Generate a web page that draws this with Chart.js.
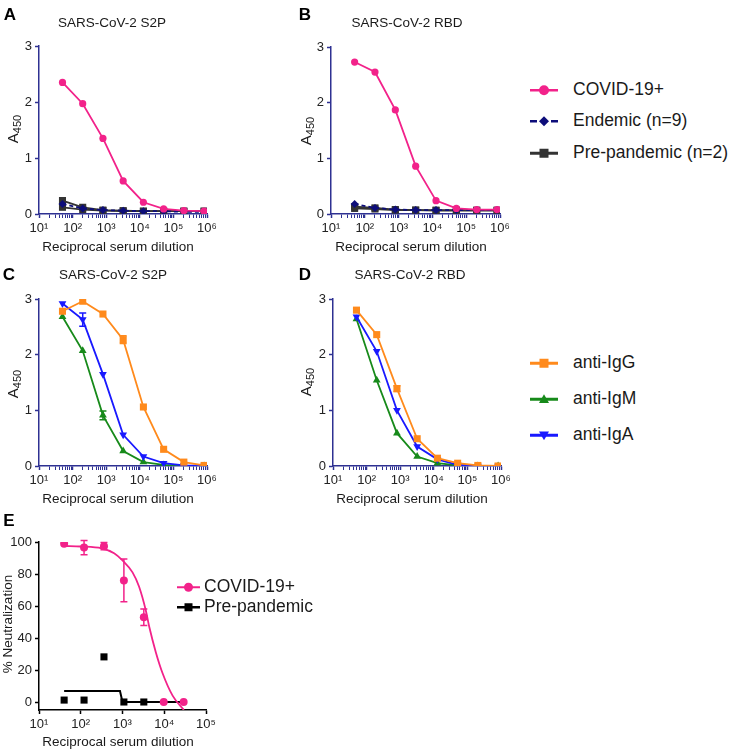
<!DOCTYPE html>
<html>
<head>
<meta charset="utf-8">
<script src="https://cdn.jsdelivr.net/npm/chart.js@4.4.1/dist/chart.umd.min.js"></script>
<style>
  html, body { margin: 0; padding: 0; background: #fff; }
  #fig { position: relative; width: 736px; height: 752px; overflow: hidden;
         font-family: "Liberation Sans", Arial, sans-serif; color: #1a1a1a; }
  #fig canvas { position: absolute; }
  .t { position: absolute; white-space: nowrap; line-height: 1; transform: translate(-50%, -50%); }
  .letter { font-weight: bold; font-size: 17px; color: #000; }
  .title { font-size: 13.5px; }
  .xtitle { font-size: 13.5px; }
  .ytitle { font-size: 15px; transform: translate(-50%, -50%) rotate(-90deg); }
  .ytitle sub { font-size: 11px; vertical-align: -3px; }
  .legrow { position: absolute; display: flex; align-items: center; white-space: nowrap;
            font-size: 17.5px; line-height: 1; transform: translateY(-50%); }
  .legrow svg { display: block; }
</style>
</head>
<body>
<div id="fig">
  <canvas id="chartA"></canvas>
  <canvas id="chartB"></canvas>
  <canvas id="chartC"></canvas>
  <canvas id="chartD"></canvas>
  <canvas id="chartE"></canvas>

  <div class="t letter" style="left:10px;top:14px">A</div>
  <div class="t letter" style="left:305px;top:14px">B</div>
  <div class="t letter" style="left:9px;top:274px">C</div>
  <div class="t letter" style="left:305px;top:274px">D</div>
  <div class="t letter" style="left:9px;top:520px">E</div>

  <div class="t title" style="left:112px;top:23px">SARS-CoV-2 S2P</div>
  <div class="t title" style="left:407px;top:23px">SARS-CoV-2 RBD</div>
  <div class="t title" style="left:113px;top:275px">SARS-CoV-2 S2P</div>
  <div class="t title" style="left:410px;top:275px">SARS-CoV-2 RBD</div>

  <div class="t ytitle" style="left:14px;top:129px">A<sub>450</sub></div>
  <div class="t ytitle" style="left:307px;top:131px">A<sub>450</sub></div>
  <div class="t ytitle" style="left:14px;top:384px">A<sub>450</sub></div>
  <div class="t ytitle" style="left:307px;top:382px">A<sub>450</sub></div>
  <div class="t ytitle" style="left:8px;top:624px;font-size:13.5px">% Neutralization</div>

  <div class="t xtitle" style="left:118px;top:247px">Reciprocal serum dilution</div>
  <div class="t xtitle" style="left:411px;top:247px">Reciprocal serum dilution</div>
  <div class="t xtitle" style="left:118px;top:499px">Reciprocal serum dilution</div>
  <div class="t xtitle" style="left:412px;top:499px">Reciprocal serum dilution</div>
  <div class="t xtitle" style="left:118px;top:742px">Reciprocal serum dilution</div>

  <div id="legendAB"></div>
  <div id="legendCD"></div>
  <div id="legendE"></div>
</div>

<script>
// ---- data -------------------------------------------------------------
const DILUTIONS_ELISA = [50, 200, 800, 3200, 12800, 51200, 204800, 819200];
const DILUTIONS_NEUT = [40, 120, 360, 1080, 3240, 9720, 29160];

const LABELS_AB = ['COVID-19+', 'Endemic (n=9)', 'Pre-pandemic (n=2)'];
const LABELS_CD = ['anti-IgG', 'anti-IgM', 'anti-IgA'];
const LABELS_E = ['COVID-19+', 'Pre-pandemic'];

// A: S2P, COVID vs controls
const A_COVID = [2.35, 1.97, 1.35, 0.59, 0.21, 0.09, 0.06, 0.05];
const A_ENDEMIC = [0.18, 0.10, 0.07, 0.06, 0.05, 0.05, 0.04, 0.04];
const A_PRE_1 = [0.24, 0.12, 0.07, 0.06, 0.05, 0.05, 0.05, 0.05];
const A_PRE_2 = [0.12, 0.08, 0.06, 0.05, 0.05, 0.05, 0.05, 0.05];

// B: RBD, COVID vs controls
const B_COVID = [2.73, 2.55, 1.87, 0.86, 0.24, 0.10, 0.08, 0.08];
const B_ENDEMIC = [0.18, 0.11, 0.08, 0.07, 0.07, 0.07, 0.07, 0.07];
const B_PRE_1 = [0.13, 0.11, 0.08, 0.07, 0.07, 0.07, 0.07, 0.07];
const B_PRE_2 = [0.10, 0.09, 0.07, 0.07, 0.06, 0.06, 0.06, 0.06];

// C: S2P isotypes (mean, sd)
const C_IGG = [2.78, 2.96, 2.73, 2.27, 1.06, 0.30, 0.07, 0.01];
const C_IGM = [2.68, 2.07, 0.91, 0.27, 0.07, 0.02, 0.00, 0.00];
const C_IGA = [2.92, 2.63, 1.65, 0.56, 0.17, 0.05, 0.01, 0.00];
const C_IGG_SD = [0, 0, 0, 0.07, 0, 0, 0, 0];
const C_IGM_SD = [0, 0, 0.08, 0, 0, 0, 0, 0];
const C_IGA_SD = [0, 0.12, 0, 0, 0, 0, 0, 0];

// D: RBD isotypes (mean, sd)
const D_IGG = [2.80, 2.36, 1.39, 0.49, 0.14, 0.05, 0.01, 0.00];
const D_IGM = [2.64, 1.54, 0.59, 0.17, 0.05, 0.01, 0.00, 0.00];
const D_IGA = [2.68, 2.06, 1.00, 0.35, 0.12, 0.02, 0.00, 0.00];
const D_IGG_SD = [0.03, 0, 0.05, 0, 0, 0, 0, 0];

// E: neutralization
const E_COVID = [98.9, 96.5, 97.4, 76.0, 53.0, 0, 0];
const E_COVID_SD = [0, 4.4, 2.3, 13.4, 5.2, 0, 0];
const E_PRE = [1.2, 1.2, 28.2, 0, 0, null, null];
// fitted curves
const E_FIT_COVID_X = [40, 100, 316, 630, 1000, 1740, 2500, 3630, 4370, 6300, 9120, 15850, 29500];
const E_FIT_COVID_Y = [97.5, 97.2, 96.0, 93.0, 88.5, 81.0, 72.0, 57.0, 47.0, 31.0, 18.0, 4.0, -5.0];
const E_FIT_PRE_X = [40, 870, 1000, 29160];
const E_FIT_PRE_Y = [6.9, 6.9, 0, 0];

// ticks
const X_EXP_ELISA = [1, 2, 3, 4, 5, 6];
const X_EXP_NEUT = [1, 2, 3, 4, 5];
const Y_TICKS_ELISA = [0, 1, 2, 3];
const Y_TICKS_NEUT = [0, 20, 40, 60, 80, 100];

// ---- style -------------------------------------------------------------
const PINK = '#f2228a';
const NAVY = '#0d0d7a';
const DARK = '#333333';
const ORANGE = '#ff8a1c';
const GREEN = '#178a1a';
const BLUE = '#1919ff';
const AXIS_NAVY = '#2e3192';

const AXIS_W = 39, AXIS_H = 26, PAD_T = 40, PAD_R = 20;

Chart.defaults.font.family = '"Liberation Sans", Arial, sans-serif';
Chart.defaults.font.size = 13;
Chart.defaults.color = '#222';

const SUP = ['\u2070', '\u00B9', '\u00B2', '\u00B3', '\u2074', '\u2075', '\u2076'];

function isPow10(v) {
    const e = Math.round(Math.log10(v));
    return Math.abs(v - Math.pow(10, e)) < 1e-6 * v;
}

function decadeTicks(exps, minor) {
    const out = [];
    exps.forEach((e, i) => {
        const base = Math.pow(10, e);
        out.push({ value: base });
        if (minor && i < exps.length - 1) {
            for (let k = 2; k <= 9; k++) out.push({ value: k * base });
        }
    });
    return out;
}

// 誤差線：以資料集的 sd 陣列畫上下端
const errorBars = {
    id: 'errorBars',
    afterDatasetsDraw(chart) {
        const { ctx } = chart;
        const xs = chart.scales.x, ys = chart.scales.y;
        chart.data.datasets.forEach(ds => {
            if (!ds.sd) return;
            ctx.save();
            ctx.strokeStyle = ds.borderColor;
            ctx.lineWidth = 1.5;
            ds.data.forEach((p, j) => {
                const e = ds.sd[j];
                if (!e || p.y == null) return;
                const x = xs.getPixelForValue(p.x);
                const y1 = ys.getPixelForValue(p.y - e);
                const y2 = ys.getPixelForValue(p.y + e);
                ctx.beginPath();
                ctx.moveTo(x, y1); ctx.lineTo(x, y2);
                ctx.moveTo(x - 3.5, y1); ctx.lineTo(x + 3.5, y1);
                ctx.moveTo(x - 3.5, y2); ctx.lineTo(x + 3.5, y2);
                ctx.stroke();
            });
            ctx.restore();
        });
    }
};

function series(xs, ys, o) {
    return {
        label: o.label,
        data: xs.map((x, i) => ({ x: x, y: ys[i] })),
        borderColor: o.color,
        backgroundColor: o.color,
        pointBackgroundColor: o.color,
        pointBorderColor: o.color,
        pointBorderWidth: 0,
        borderWidth: o.lineWidth || 1.8,
        pointStyle: o.marker || 'circle',
        pointRadius: o.radius === undefined ? 3.6 : o.radius,
        pointRotation: o.rotation || 0,
        borderDash: o.dash || [],
        showLine: o.showLine === undefined ? true : o.showLine,
        tension: 0,
        cubicInterpolationMode: o.smooth ? 'monotone' : 'default',
        sd: o.sd || null,
        order: o.order || 0
    };
}

function panelChart(id, box, datasets, cfg) {
    const canvas = document.getElementById(id);
    canvas.width = box.r - box.l + AXIS_W + PAD_R;
    canvas.height = box.b - box.t + PAD_T + AXIS_H;
    canvas.style.left = (box.l - AXIS_W) + 'px';
    canvas.style.top = (box.t - PAD_T) + 'px';

    return new Chart(canvas, {
        type: 'line',
        data: { datasets: datasets },
        options: {
            responsive: false,
            animation: false,
            layout: { padding: { top: PAD_T, right: PAD_R, left: 0, bottom: 0 } },
            plugins: { legend: { display: false }, tooltip: { enabled: false } },
            scales: {
                x: {
                    type: 'logarithmic',
                    min: Math.pow(10, cfg.xExps[0]),
                    max: Math.pow(10, cfg.xExps[cfg.xExps.length - 1]),
                    afterBuildTicks: s => { s.ticks = decadeTicks(cfg.xExps, cfg.minor); },
                    afterFit: s => { s.height = AXIS_H; },
                    grid: {
                        drawOnChartArea: false,
                        tickLength: 4,
                        tickColor: cfg.axisColor,
                        tickWidth: c => (c.tick && isPow10(c.tick.value)) ? 1.5 : 1
                    },
                    border: { color: cfg.axisColor, width: 1.5 },
                    ticks: {
                        autoSkip: false,
                        maxRotation: 0,
                        padding: 3,
                        callback: v => isPow10(v) ? '10' + SUP[Math.round(Math.log10(v))] : ''
                    }
                },
                y: {
                    min: cfg.yMin,
                    max: cfg.yMax,
                    afterBuildTicks: s => { s.ticks = cfg.yTicks.map(v => ({ value: v })); },
                    afterFit: s => { s.width = AXIS_W; },
                    grid: { drawOnChartArea: false, tickLength: 4, tickColor: cfg.axisColor, tickWidth: 1.5 },
                    border: { color: cfg.axisColor, width: 1.5 },
                    ticks: { padding: 3 }
                }
            }
        },
        plugins: [errorBars]
    });
}

const elisaCfg = { xExps: X_EXP_ELISA, minor: true, yMin: 0, yMax: 3, yTicks: Y_TICKS_ELISA, axisColor: AXIS_NAVY };

function controlsSets(covid, endemic, pre1, pre2) {
    return [
        series(DILUTIONS_ELISA, covid, { label: LABELS_AB[0], color: PINK, order: 0 }),
        series(DILUTIONS_ELISA, endemic, { label: LABELS_AB[1], color: NAVY, marker: 'rectRot', radius: 4, dash: [4, 3], order: 1 }),
        series(DILUTIONS_ELISA, pre1, { label: LABELS_AB[2], color: DARK, marker: 'rect', radius: 5, order: 2 }),
        series(DILUTIONS_ELISA, pre2, { label: LABELS_AB[2], color: DARK, marker: 'rect', radius: 5, order: 3 })
    ];
}

function isotypeSets(igg, igm, iga, iggSd, igmSd, igaSd) {
    return [
        series(DILUTIONS_ELISA, igg, { label: LABELS_CD[0], color: ORANGE, marker: 'rect', radius: 5, sd: iggSd, order: 0 }),
        series(DILUTIONS_ELISA, igm, { label: LABELS_CD[1], color: GREEN, marker: 'triangle', radius: 4.5, sd: igmSd, order: 2 }),
        series(DILUTIONS_ELISA, iga, { label: LABELS_CD[2], color: BLUE, marker: 'triangle', rotation: 180, radius: 4.5, sd: igaSd, order: 1 })
    ];
}

panelChart('chartA', { l: 39, r: 207, t: 46, b: 214 }, controlsSets(A_COVID, A_ENDEMIC, A_PRE_1, A_PRE_2), elisaCfg);
panelChart('chartB', { l: 331, r: 500, t: 47, b: 214 }, controlsSets(B_COVID, B_ENDEMIC, B_PRE_1, B_PRE_2), elisaCfg);
panelChart('chartC', { l: 39, r: 207, t: 299, b: 466 }, isotypeSets(C_IGG, C_IGM, C_IGA, C_IGG_SD, C_IGM_SD, C_IGA_SD), elisaCfg);
panelChart('chartD', { l: 333, r: 501, t: 299, b: 466 }, isotypeSets(D_IGG, D_IGM, D_IGA, D_IGG_SD, null, null), elisaCfg);

panelChart('chartE', { l: 39, r: 206, t: 542, b: 710 }, [
    series(DILUTIONS_NEUT, E_COVID, { label: LABELS_E[0], color: PINK, showLine: false, radius: 4, sd: E_COVID_SD, order: 0 }),
    series(E_FIT_COVID_X, E_FIT_COVID_Y, { label: LABELS_E[0], color: PINK, radius: 0, smooth: true, order: 1 }),
    series(DILUTIONS_NEUT, E_PRE, { label: LABELS_E[1], color: '#000', marker: 'rect', radius: 5, showLine: false, order: 2 }),
    series(E_FIT_PRE_X, E_FIT_PRE_Y, { label: LABELS_E[1], color: '#000', radius: 0, lineWidth: 2, order: 3 })
], { xExps: X_EXP_NEUT, minor: false, yMin: -5, yMax: 100, yTicks: Y_TICKS_NEUT, axisColor: '#000' });

// ---- legends -------------------------------------------------------------
function legendIcon(o, w) {
    const h = 16, cy = 8, cx = w / 2, r = o.r;
    let mark = '';
    if (o.marker === 'circle') {
        mark = `<circle cx="${cx}" cy="${cy}" r="${r}" fill="${o.color}"/>`;
    } else if (o.marker === 'rect') {
        mark = `<rect x="${cx - r}" y="${cy - r}" width="${2 * r}" height="${2 * r}" fill="${o.color}"/>`;
    } else if (o.marker === 'diamond') {
        mark = `<polygon points="${cx},${cy - r} ${cx + r},${cy} ${cx},${cy + r} ${cx - r},${cy}" fill="${o.color}"/>`;
    } else if (o.marker === 'up') {
        mark = `<polygon points="${cx},${cy - r} ${cx + r},${cy + r * 0.75} ${cx - r},${cy + r * 0.75}" fill="${o.color}"/>`;
    } else if (o.marker === 'down') {
        mark = `<polygon points="${cx},${cy + r} ${cx + r},${cy - r * 0.75} ${cx - r},${cy - r * 0.75}" fill="${o.color}"/>`;
    }
    const dash = o.dash ? `stroke-dasharray="${o.dash}"` : '';
    return `<svg width="${w}" height="${h}"><line x1="0" y1="${cy}" x2="${w}" y2="${cy}" stroke="${o.color}" stroke-width="${o.lw}" ${dash}/>${mark}</svg>`;
}

function buildLegend(id, left, ys, items, iconW, gap) {
    const host = document.getElementById(id);
    host.innerHTML = items.map((it, i) =>
        `<div class="legrow" style="left:${left}px;top:${ys[i]}px">${legendIcon(it, iconW)}<span style="margin-left:${gap}px">${it.label}</span></div>`
    ).join('');
}

buildLegend('legendAB', 530, [90, 121, 153], [
    { label: LABELS_AB[0], color: PINK, marker: 'circle', r: 5, lw: 2.5 },
    { label: LABELS_AB[1], color: NAVY, marker: 'diamond', r: 5, lw: 2.5, dash: '7 14' },
    { label: LABELS_AB[2], color: DARK, marker: 'rect', r: 4.5, lw: 3 }
], 28, 15);

buildLegend('legendCD', 530, [363, 399, 435], [
    { label: LABELS_CD[0], color: ORANGE, marker: 'rect', r: 4.5, lw: 3 },
    { label: LABELS_CD[1], color: GREEN, marker: 'up', r: 5, lw: 3 },
    { label: LABELS_CD[2], color: BLUE, marker: 'down', r: 5, lw: 3 }
], 28, 15);

buildLegend('legendE', 177, [587, 607], [
    { label: LABELS_E[0], color: PINK, marker: 'circle', r: 4.5, lw: 2 },
    { label: LABELS_E[1], color: '#000', marker: 'rect', r: 4, lw: 2.5 }
], 23, 4);
</script>
</body>
</html>
